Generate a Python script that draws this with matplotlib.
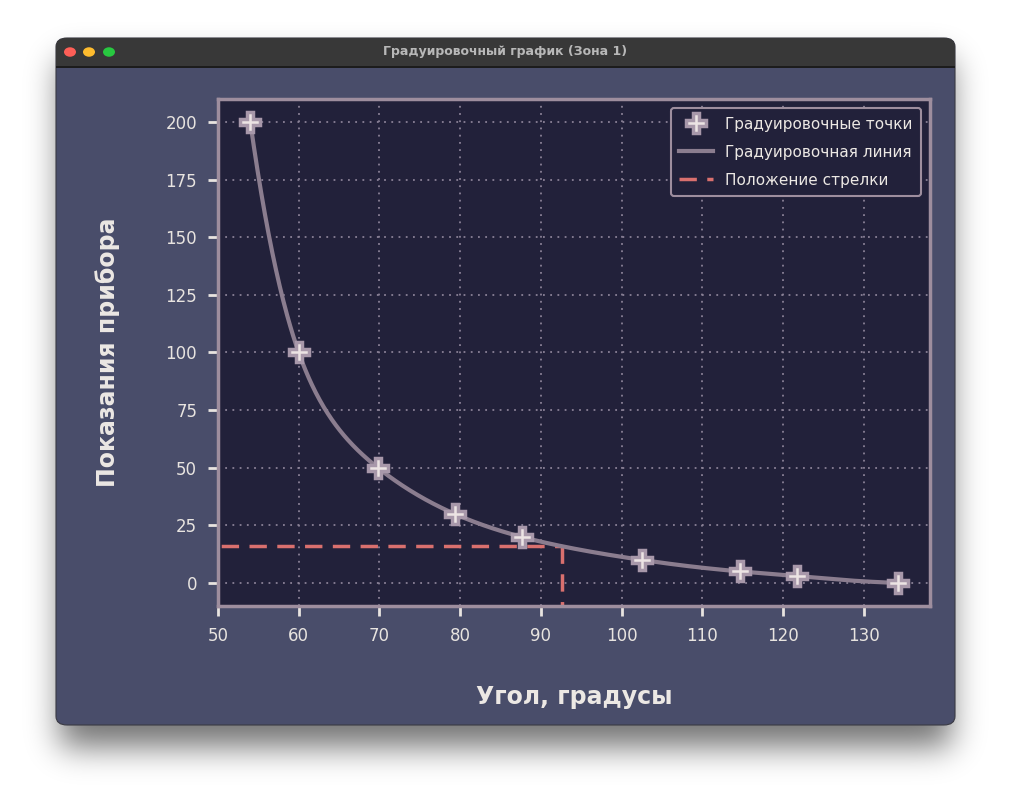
import numpy as np
import matplotlib
matplotlib.use("Agg")
import matplotlib.pyplot as plt
from matplotlib.patches import FancyBboxPatch, Circle, Rectangle

# ---- data ----
angles = [54.0, 60.0, 69.8, 79.3, 87.6, 102.5, 114.7, 121.7, 134.2]
readings = [200.0, 100.0, 50.0, 30.0, 20.0, 10.0, 5.0, 3.0, 0.0]
pointer_angle = 92.6
pointer_value = 16.0
x_ticks = [50, 60, 70, 80, 90, 100, 110, 120, 130]
y_ticks = [0, 25, 50, 75, 100, 125, 150, 175, 200]
window_title = "Градуировочный график (Зона 1)"
x_label = "Угол, градусы"
y_label = "Показания прибора"
legend_labels = ["Градуировочные точки", "Градуировочная линия", "Положение стрелки"]

W, H = 1012, 800
fig = plt.figure(figsize=(W / 100, H / 100), dpi=100)
fig.patch.set_facecolor("white")

def fx(px):
    return px / W

def fy(py):
    return 1 - py / H

wl, wt, wr, wb = 56, 38, 955, 725

# soft window shadow (blurred mask)
mask = np.zeros((H, W))
mask[wt + 22:wb + 22, wl + 4:wr - 4] = 1.0
sigma = 16
k = np.arange(-3 * sigma, 3 * sigma + 1)
g = np.exp(-k**2 / (2 * sigma**2))
g /= g.sum()
mask = np.apply_along_axis(lambda r: np.convolve(r, g, mode="same"), 1, mask)
mask = np.apply_along_axis(lambda c: np.convolve(c, g, mode="same"), 0, mask)
shadow = np.zeros((H, W, 4))
shadow[..., 3] = mask * 0.55
bg_ax = fig.add_axes([0, 0, 1, 1])
bg_ax.set_zorder(0)
bg_ax.imshow(shadow, extent=[0, 1, 0, 1], aspect="auto", interpolation="bilinear")
bg_ax.set_xlim(0, 1)
bg_ax.set_ylim(0, 1)
bg_ax.axis("off")

rs = 0.011
body = FancyBboxPatch((fx(wl), fy(wb)), fx(wr - wl), (wb - wt) / H,
                      boxstyle=f"round,pad=0,rounding_size={rs}",
                      transform=bg_ax.transAxes, facecolor="#494d6a",
                      edgecolor="#3a3a44", linewidth=0.8, zorder=2)
bg_ax.add_patch(body)
tb = FancyBboxPatch((fx(wl), fy(67)), fx(wr - wl), (67 - wt) / H,
                    boxstyle=f"round,pad=0,rounding_size={rs}",
                    transform=bg_ax.transAxes, facecolor="#383838",
                    edgecolor="none", zorder=3)
bg_ax.add_patch(tb)
bg_ax.add_patch(Rectangle((fx(wl), fy(67)), fx(wr - wl), 14 / H,
                          transform=bg_ax.transAxes, facecolor="#383838",
                          edgecolor="none", zorder=3))
bg_ax.add_patch(Rectangle((fx(wl), fy(67.5)), fx(wr - wl), 1.2 / H,
                          transform=bg_ax.transAxes, facecolor="#1c1c1c",
                          edgecolor="none", zorder=4))
for cx, col in [(70, "#fe5f57"), (89, "#febc2e"), (109, "#28c840")]:
    bg_ax.add_patch(Circle((fx(cx), fy(52)), 6 / W, transform=bg_ax.transAxes,
                           facecolor=col, edgecolor="none", zorder=5))
bg_ax.text(fx(505), fy(52), window_title, ha="center", va="center",
           fontsize=9, fontweight="bold", color="#b8b8b8", zorder=6,
           transform=bg_ax.transAxes)

# axes
ax = fig.add_axes([fx(218), fy(606), fx(930 - 218), (606 - 99) / H])
ax.set_zorder(5)
ax.set_facecolor("#22213a")

# smooth drawing of the calibration line: natural cubic spline in log(y+1) space
xa = np.array(angles)
la = np.log(np.array(readings) + 1.0)
n = len(xa)
hh = np.diff(xa)
A = np.zeros((n, n))
b = np.zeros(n)
A[0, 0] = 1
A[-1, -1] = 1
for i in range(1, n - 1):
    A[i, i - 1] = hh[i - 1]
    A[i, i] = 2 * (hh[i - 1] + hh[i])
    A[i, i + 1] = hh[i]
    b[i] = 6 * ((la[i + 1] - la[i]) / hh[i] - (la[i] - la[i - 1]) / hh[i - 1])
M = np.linalg.solve(A, b)
xs, ys = [], []
for i in range(n - 1):
    t = np.linspace(xa[i], xa[i + 1], 80)
    a_ = (xa[i + 1] - t) / hh[i]
    b_ = (t - xa[i]) / hh[i]
    lv = (a_ * la[i] + b_ * la[i + 1]
          + ((a_**3 - a_) * M[i] + (b_**3 - b_) * M[i + 1]) * hh[i]**2 / 6)
    xs.append(t)
    ys.append(np.exp(lv) - 1.0)
xs = np.concatenate(xs)
ys = np.concatenate(ys)

ax.plot(xs, ys, color="#8b7d8f", linewidth=3, zorder=3, label=legend_labels[1])
ax.plot([0, pointer_angle], [pointer_value, pointer_value],
        color="#d9706e", linewidth=2.5, linestyle=(0, (5, 3)), zorder=2,
        label=legend_labels[2])
ax.plot([pointer_angle, pointer_angle], [pointer_value, -100],
        color="#d9706e", linewidth=2.5, linestyle=(0, (5, 3)), zorder=2)
ax.plot(angles, readings, linestyle="none", marker="P", markersize=14,
        markerfacecolor="#ece4e4", markeredgecolor="#a898aa", markeredgewidth=2.5,
        zorder=4, label=legend_labels[0])

ax.set_xlim(50, 138.2)
ax.set_ylim(-10, 210)
ax.set_xticks(x_ticks)
ax.set_yticks(y_ticks)
ax.grid(True, color="#8a8196", linestyle=(0, (1, 3)), linewidth=1.3)
ax.set_axisbelow(True)
for sp in ax.spines.values():
    sp.set_color("#9e8e9e")
    sp.set_linewidth(2.5)
ax.tick_params(colors="#e8e4e0", labelsize=12, length=7, width=2, direction="out", pad=8)
for lab in ax.get_xticklabels() + ax.get_yticklabels():
    lab.set_color("#e8e4e0")

ax.set_xlabel(x_label, fontsize=17, fontweight="bold", color="#ece8e4", labelpad=29)
ax.set_ylabel(y_label, fontsize=17, fontweight="bold", color="#ece8e4", labelpad=33)

handles, labels = ax.get_legend_handles_labels()
order = [labels.index(l) for l in legend_labels]
leg = ax.legend([handles[i] for i in order], [labels[i] for i in order],
                loc="upper right", fontsize=11, facecolor="#22213a",
                edgecolor="#9e8e9e", framealpha=1, labelcolor="#ece8e4",
                borderpad=0.55, handlelength=2.2, labelspacing=0.85,
                borderaxespad=0.6)
leg.get_frame().set_linewidth(1.5)

fig.savefig("out.png", dpi=100)
